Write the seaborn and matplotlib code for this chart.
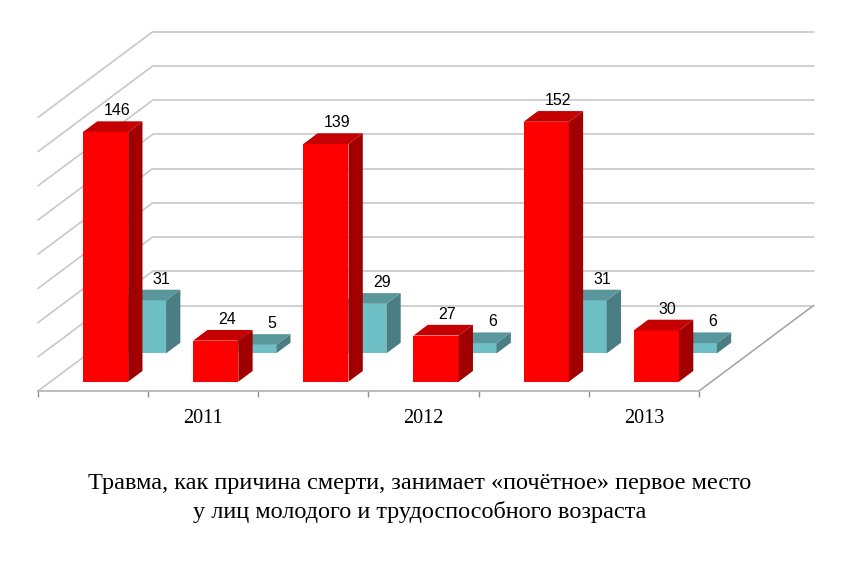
import matplotlib
matplotlib.use('Agg')
import matplotlib.pyplot as plt
import matplotlib.transforms as mtransforms
from matplotlib.patches import Polygon
import numpy as np
import pandas as pd
import seaborn as sns

# data
years = ['2011', '2012', '2013']
columns = ['2011 a', '2011 b', '2012 a', '2012 b', '2013 a', '2013 b']
red_vals = [146, 24, 139, 27, 152, 30]
teal_vals = [31, 5, 29, 6, 31, 6]
caption_1 = 'Травма, как причина смерти, занимает «почётное» первое место'
caption_2 = 'у лиц молодого и трудоспособного возраста'

W, H = 841, 561
DX, DY = 114.5, 85.5          # full floor depth, px
RED_D, TEAL_D, BAR_D = 0.109, 0.44, 0.125
YMAX = 160

sns.set_style('white')
plt.rcParams['font.family'] = ['Liberation Sans', 'DejaVu Sans']
plt.rcParams['text.color'] = 'black'
plt.rcParams['xtick.color'] = 'black'

fig = plt.figure(figsize=(W / 100, H / 100), dpi=100)
ax = fig.add_axes([38 / W, 170 / H, 661 / W, 273.6 / H])

df = pd.DataFrame({'col': columns, 'red': red_vals, 'teal': teal_vals})

n0 = len(ax.patches)
sns.barplot(data=df, x='col', y='teal', color='#6fbfc6', width=0.41,
            saturation=1, ax=ax)
teal_bars = ax.patches[n0:]
n1 = len(ax.patches)
sns.barplot(data=df, x='col', y='red', color='#ff0000', width=0.41,
            saturation=1, ax=ax)
red_bars = ax.patches[n1:]

ax.set_xlim(-0.5, len(columns) - 0.5)
ax.set_ylim(0, YMAX)
ax.set_autoscale_on(False)
ax.set_xlabel('')
ax.set_ylabel('')
ax.set_yticks([])


def depth(d):
    return ax.transData + mtransforms.ScaledTranslation(DX * d / 100, DY * d / 100,
                                                       fig.dpi_scale_trans)


def P(x, y, d):
    px, py = ax.transData.transform((x, y))
    return (px + DX * d, py + DY * d)


ident = mtransforms.IdentityTransform()
grid_c = '#c8c8c8'

# walls
for v in range(0, YMAX + 1, 20):
    ax.plot([-0.5, len(columns) - 0.5], [v, v], color=grid_c, lw=1.2,
            transform=depth(1), clip_on=False, zorder=0.5)
    a, b = P(-0.5, v, 0), P(-0.5, v, 1)
    ax.plot([a[0], b[0]], [a[1], b[1]], color=grid_c, lw=1.2,
            transform=ident, clip_on=False, zorder=0.5)
a, b = P(len(columns) - 0.5, 0, 0), P(len(columns) - 0.5, 0, 1)
ax.plot([a[0], b[0]], [a[1], b[1]], color='#a8a8a8', lw=1.2,
        transform=ident, clip_on=False, zorder=0.5)


def make_3d(bars, d0, front, top, side, z, lab_dx):
    for bar in bars:
        x0, w, h = bar.get_x(), bar.get_width(), bar.get_height()
        x1 = x0 + w
        bar.set_transform(depth(d0))
        bar.set_clip_on(False)
        bar.set_edgecolor('none')
        bar.set_facecolor(front)
        bar.set_zorder(z)
        d1 = d0 + BAR_D
        ax.add_patch(Polygon([P(x1, 0, d0), P(x1, 0, d1), P(x1, h, d1), P(x1, h, d0)],
                             closed=True, facecolor=side, edgecolor='none',
                             transform=ident, clip_on=False, zorder=z))
        ax.add_patch(Polygon([P(x0, h, d0), P(x1, h, d0), P(x1, h, d1), P(x0, h, d1)],
                             closed=True, facecolor=top, edgecolor='none',
                             transform=ident, clip_on=False, zorder=z))
        off = mtransforms.ScaledTranslation(lab_dx / 100, 6 / 100, fig.dpi_scale_trans)
        ax.text(x0 + w / 2, h, f'{h:.0f}', transform=depth(d1) + off,
                ha='center', va='baseline', fontsize=11.5, color='black',
                zorder=z + 0.5, clip_on=False)


make_3d(teal_bars, TEAL_D, '#6fbfc6', '#5a979d', '#4b7e83', 2, 4)
make_3d(red_bars, RED_D, '#ff0000', '#c40000', '#a00000', 3, -3)

# axis: front floor edge, ticks and year labels
for s in ['top', 'left', 'right']:
    ax.spines[s].set_visible(False)
ax.spines['bottom'].set_color('#b0b0b0')
ax.spines['bottom'].set_linewidth(1.2)
ax.set_xticks([0.5, 2.5, 4.5], years)
ax.set_xticks(np.arange(-0.5, len(columns), 1), minor=True)
ax.tick_params(axis='x', which='both', bottom=True, length=4.5, width=1,
               color='#909090', direction='out')
ax.tick_params(axis='x', which='major', pad=8.5, labelsize=14.5,
               labelcolor='black')
for lab in ax.get_xticklabels():
    lab.set_fontfamily('Liberation Serif')
    lab.set_transform(lab.get_transform() +
                      mtransforms.ScaledTranslation(0.55, 0, fig.dpi_scale_trans))

fig.text(420 / W, 1 - 489 / H, caption_1, ha='center', va='baseline',
         fontsize=17.5, family='Liberation Serif', color='black')
fig.text(420 / W, 1 - 518 / H, caption_2, ha='center', va='baseline',
         fontsize=17.5, family='Liberation Serif', color='black')

fig.savefig('out.png', dpi=100)
